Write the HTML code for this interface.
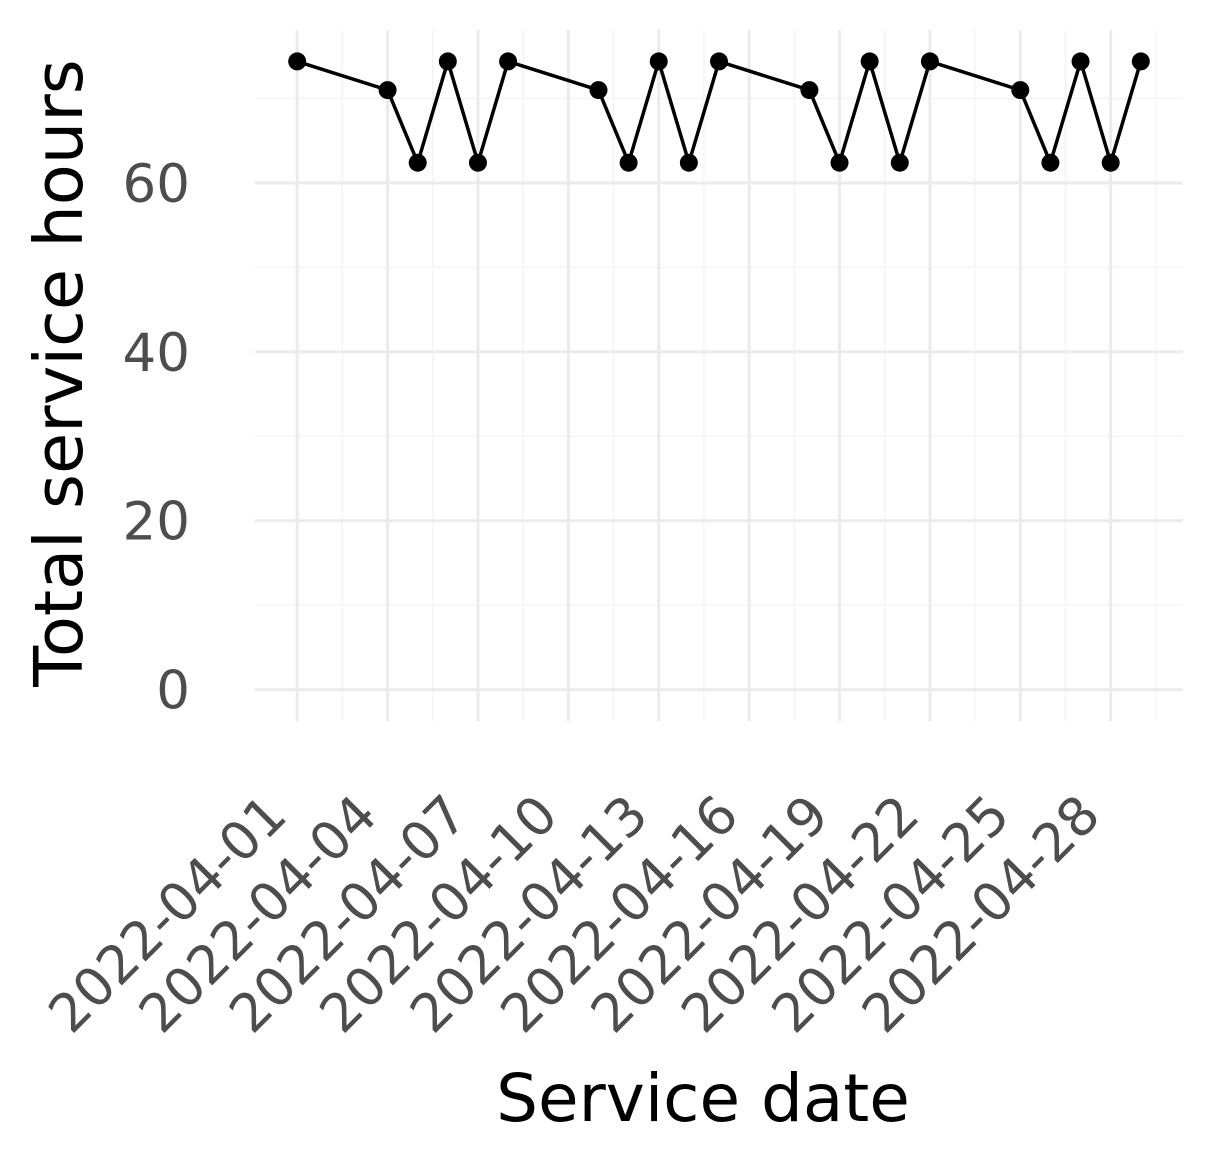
<!DOCTYPE html>
<html><head><meta charset="utf-8"><style>
html,body{margin:0;padding:0;background:#fff;}
svg{display:block;font-family:"DejaVu Sans","Liberation Sans",sans-serif;}
</style></head><body>
<svg id="chart" width="1213" height="1165" viewBox="0 0 1213 1165">
<g id="grid"></g>
<g id="series"></g>
<g id="yticks"></g>
<g id="xticks"></g>
<text x="703" y="1121" text-anchor="middle" font-size="66" fill="#000">Service date</text>
<text transform="translate(82,373) rotate(-90)" text-anchor="middle" font-size="67" fill="#000">Total service hours</text>
</svg>
<script>
const dayOffsets = [0,3,4,5,6,7,10,11,12,13,14,17,18,19,20,21,24,25,26,27,28];
const hours = [74.4,71,62.4,74.4,62.4,74.4,71,62.4,74.4,62.4,74.4,71,62.4,74.4,62.4,74.4,71,62.4,74.4,62.4,74.4];
const xTickDays = [0,3,6,9,12,15,18,21,24,27];
const xTickLabels = ["2022-04-01","2022-04-04","2022-04-07","2022-04-10","2022-04-13","2022-04-16","2022-04-19","2022-04-22","2022-04-25","2022-04-28"];
const yTicks = [0,20,40,60];
const yMinor = [10,30,50,70];

const NS = "http://www.w3.org/2000/svg";
const X0 = 255, X1 = 1183, Y0 = 721, Y1 = 30;
const dMin = Math.min(...dayOffsets), dMax = Math.max(...dayOffsets);
const dPad = (dMax - dMin) * 0.05;
const hMax = Math.max(...hours), hPad = hMax * 0.05;
function xs(d){ return X0 + (d - (dMin - dPad)) / ((dMax + dPad) - (dMin - dPad)) * (X1 - X0); }
function ys(v){ return Y0 - (v - (0 - hPad)) / ((hMax + hPad) - (0 - hPad)) * (Y0 - Y1); }
function mk(tag, attrs, parent){ const e = document.createElementNS(NS, tag); for (const k in attrs) e.setAttribute(k, attrs[k]); parent.appendChild(e); return e; }

const grid = document.getElementById('grid');
yMinor.forEach(v => {
  const l = mk('line', {x1:X0, x2:X1, y1:ys(v), y2:ys(v), stroke:'#f4f4f4', 'stroke-width':1.5}, grid);
  
  
});
const minorDays = [];
for (let i = 0; i < xTickDays.length; i++) minorDays.push(xTickDays[i] + 1.5);
minorDays.unshift(xTickDays[0] - 1.5);
minorDays.forEach(d => {
  if (xs(d) < X0 || xs(d) > X1) return;
  const l = mk('line', {x1:xs(d), x2:xs(d), y1:Y1, y2:Y0, stroke:'#f4f4f4', 'stroke-width':1.5}, grid);
  
  
});
yTicks.forEach(v => {
  const l = mk('line', {x1:X0, x2:X1, y1:ys(v), y2:ys(v), stroke:'#ebebeb', 'stroke-width':3}, grid);
  
  
});
xTickDays.forEach(d => {
  const l = mk('line', {x1:xs(d), x2:xs(d), y1:Y1, y2:Y0, stroke:'#ebebeb', 'stroke-width':3}, grid);
  
  
});

const series = document.getElementById('series');
const pts = dayOffsets.map((d, i) => xs(d).toFixed(1) + ',' + ys(hours[i]).toFixed(1)).join(' ');
const line = mk('polyline', {points:pts, fill:'none', stroke:'#000', 'stroke-width':3.5, 'stroke-linejoin':'round'}, series);


dayOffsets.forEach((d, i) => {
  const c = mk('circle', {cx:xs(d), cy:ys(hours[i]), r:9, fill:'#000'}, series);
  
  
});

const yt = document.getElementById('yticks');
yTicks.forEach(v => {
  const t = mk('text', {x:190, y:ys(v) + 19, 'text-anchor':'end', 'font-size':53, fill:'#4d4d4d'}, yt);
  t.textContent = String(v);
  
  
});
const xt = document.getElementById('xticks');
xTickDays.forEach((d, i) => {
  const ax = xs(d) - 8, ay = 818;
  const t = mk('text', {x:0, y:0, transform:'translate(' + ax + ',' + ay + ') rotate(-45)', 'text-anchor':'end', 'font-size':53, fill:'#4d4d4d'}, xt);
  t.textContent = xTickLabels[i];
  
  
});
</script>
</body></html>
